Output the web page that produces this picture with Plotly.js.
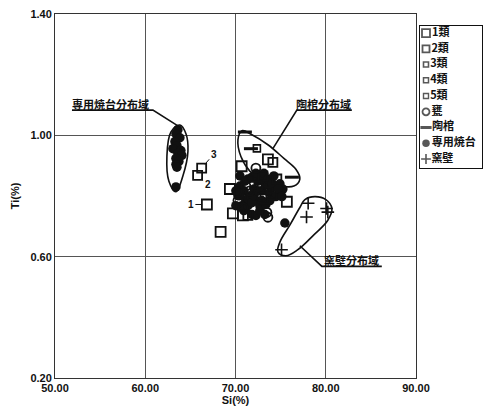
<!DOCTYPE html>
<html><head><meta charset="utf-8">
<script src="https://cdn.plot.ly/plotly-3.0.1.min.js"></script>
<style>html,body{margin:0;padding:0;background:#fff}#chart{width:484px;height:416px}</style>
</head><body><div id="chart"></div>
<script>
// ---- categories / legend labels ----
const categories = ['1類','2類','3類','4類','5類','甕','陶棺','専用焼台','窯壁'];

// ---- series values (Si %, Ti %) ----
const cls1X = [66.83, 68.35, 69.38, 69.71, 70.68, 75.69, 73.59, 70.82];
const cls1Y = [0.772, 0.682, 0.823, 0.743, 0.898, 0.781, 0.921, 0.736];
const cls2X = [65.80, 66.25, 74.14, 73.03, 74.58, 73.25, 71.37];
const cls2Y = [0.868, 0.892, 0.911, 0.866, 0.856, 0.791, 0.736];
const cls3X = [72.37, 72.48, 74.00];
const cls3Y = [0.957, 0.836, 0.801];
const cls4X = [71.59, 73.59];
const cls4Y = [0.856, 0.817];
const cls5X = [72.70, 71.04];
const cls5Y = [0.830, 0.798];
const kameX = [72.26, 70.82, 73.48, 73.59, 71.59, 72.92, 70.27, 71.15];
const kameY = [0.892, 0.762, 0.746, 0.730, 0.817, 0.798, 0.785, 0.833];
const tokanX = [71.04, 71.71, 76.25];
const tokanY = [1.011, 0.956, 0.862];
const yakidaiX = [63.62,63.40,63.84,63.29,63.51,63.07,63.95,63.62,64.06,63.40,63.73,63.40,63.51,63.40,
  70.49,70.93,70.27,71.15,70.71,71.59,72.04,72.48,72.92,73.37,73.81,72.26,71.82,72.26,75.25,74.47,71.37,72.92,74.92,70.93,73.25,75.47,70.04,72.70,71.37,74.03,
  70.49,71.04,71.82,72.26,73.14,73.59,74.03,74.70,75.14,72.70,71.37,71.82,73.37,73.81,70.49,70.04,72.92,72.04,74.25,72.48];
const yakidaiY = [1.018,1.005,0.992,0.979,0.966,0.956,0.950,0.940,0.934,0.924,0.914,0.904,0.895,0.830,
  0.833,0.817,0.801,0.785,0.768,0.801,0.823,0.849,0.817,0.836,0.811,0.785,0.739,0.736,0.823,0.798,0.856,0.856,0.840,0.752,0.739,0.711,0.768,0.768,0.768,0.830,
  0.866,0.849,0.862,0.875,0.875,0.856,0.843,0.823,0.798,0.752,0.791,0.778,0.772,0.785,0.801,0.817,0.785,0.801,0.866,0.817];
const kamaX = [78.05, 77.87, 80.09, 80.23, 75.10];
const kamaY = [0.776, 0.731, 0.759, 0.747, 0.623];

// ---- distribution region outlines ----
const regYakidaiX = [63.84,64.51,64.73,64.17,63.40,62.62,62.40,62.85,63.84];
const regYakidaiY = [1.034,1.005,0.947,0.866,0.814,0.849,0.930,1.011,1.034];
const regTokanX = [70.71,71.82,73.59,75.36,76.69,77.13,76.47,74.92,73.14,71.59,70.60,70.27,70.71];
const regTokanY = [1.015,1.002,0.969,0.924,0.888,0.856,0.833,0.833,0.849,0.882,0.930,0.985,1.015];
const regKamaX = [77.69,78.79,80.01,80.68,80.23,78.68,76.91,75.58,74.70,74.92,76.02,77.13,77.69];
const regKamaY = [0.788,0.798,0.788,0.759,0.720,0.672,0.623,0.603,0.616,0.648,0.704,0.762,0.788];

// ---- region labels and leader lines ----
const regionLabels = ['専用焼台分布域','陶棺分布域','窯壁分布域'];
const regionLabelX = [56.2, 79.8, 82.9];
const regionLabelY = [1.103, 1.103, 0.590];
const leadYakidaiX = [51.88, 60.85, 63.62];
const leadYakidaiY = [1.083, 1.083, 1.031];
const leadTokanX = [82.89, 76.80, 74.14];
const leadTokanY = [1.083, 1.083, 0.956];
const leadKamaX = [77.13, 79.57, 86.21];
const leadKamaY = [0.636, 0.568, 0.568];

// ---- sample number labels ----
const sampleLabels = ['1','2','3'];
const sampleX = [66.83, 65.80, 66.25];
const sampleY = [0.772, 0.868, 0.892];

const xTicks = [50, 60, 70, 80, 90];
const yTicks = [0.2, 0.6, 1.0, 1.4];

// ---- styles ----
const K = '#111';
const styles = [
  {symbol:'square-open', size:10, line:1.8},
  {symbol:'square-open', size:9, line:1.8},
  {symbol:'square-open', size:7, line:1.6},
  {symbol:'square-open', size:6, line:1.5},
  {symbol:'square-open', size:5, line:1.4},
  {symbol:'circle-open', size:9, line:1.8},
  {symbol:'line-ew', size:10, line:3},
  {symbol:'circle', size:9.5, line:0},
  {symbol:'cross-thin', size:9, line:1.6}
];
const seriesX = [cls1X, cls2X, cls3X, cls4X, cls5X, kameX, tokanX, yakidaiX, kamaX];
const seriesY = [cls1Y, cls2Y, cls3Y, cls4Y, cls5Y, kameY, tokanY, yakidaiY, kamaY];

const traces = [];
const outline = (x, y, spline) => ({x, y, type:'scatter', mode:'lines', hoverinfo:'skip',
  line:{color:K, width:1.6, shape: spline ? 'spline' : 'linear', smoothing:1.1}, showlegend:false});
traces.push(outline(regYakidaiX, regYakidaiY, true));
traces.push(outline(regTokanX, regTokanY, true));
traces.push(outline(regKamaX, regKamaY, true));
traces.push(outline(leadYakidaiX, leadYakidaiY, false));
traces.push(outline(leadTokanX, leadTokanY, false));
traces.push(outline(leadKamaX, leadKamaY, false));

const order = [7, 0, 1, 2, 3, 4, 5, 6, 8];
order.forEach(i => {
  const s = styles[i];
  traces.push({x: seriesX[i], y: seriesY[i], type:'scatter', mode:'markers', name: categories[i], showlegend:false,
    marker:{symbol:s.symbol, size:s.size, color:K, line:{color:K, width:s.line}}});
});

// manual legend on its own small axes
const legY = categories.map((c, i) => i);
const legX = categories.map(() => 6);
traces.push({x: legX, y: legY, xaxis:'x2', yaxis:'y2', type:'scatter', mode:'markers+text', showlegend:false,
  text: categories, textposition:'middle right', hoverinfo:'skip',
  textfont:{family:'Noto Sans CJK JP', size:11, color:K, weight:'bold'},
  marker:{symbol: styles.map(s => s.symbol), size: styles.map(s => Math.max(s.size - 2, 5)), color:K,
          line:{color:K, width: styles.map(s => s.line)}}});

const annotations = regionLabels.map((t, i) => ({x: regionLabelX[i], y: regionLabelY[i], xref:'x', yref:'y',
  text:'<b>' + t + '</b>', showarrow:false, font:{family:'Noto Sans CJK JP', size:11, color:K}}));
const offs = [[-16, 0], [10, 9], [12, -14]];
sampleLabels.forEach((t, i) => annotations.push({x: sampleX[i], y: sampleY[i], xref:'x', yref:'y',
  text:'<b>' + t + '</b>', showarrow:true, arrowhead:0, arrowwidth:1, arrowcolor:K, standoff:5,
  ax: offs[i][0], ay: offs[i][1], font:{family:'Liberation Sans', size:10, color:K}}));

const plotW = 484 - 55 - 2;
const layout = {
  width:484, height:416, paper_bgcolor:'#fff', plot_bgcolor:'#fff',
  margin:{l:55, r:2, t:14, b:38},
  showlegend:false,
  font:{family:'Liberation Sans', color:K},
  xaxis:{domain:[0, 361/plotW], range:[50, 90], tickvals:xTicks, tickformat:'.2f', ticks:'',
    showgrid:true, gridcolor:'#555', gridwidth:1, zeroline:false,
    showline:true, mirror:true, linecolor:'#333', linewidth:1,
    tickfont:{family:'Liberation Sans', size:11, weight:'bold', color:K},
    title:{text:'<b>Si(%)</b>', font:{family:'Liberation Sans', size:11, color:K}, standoff:2}},
  yaxis:{range:[0.2, 1.4], tickvals:yTicks, tickformat:'.2f', ticks:'',
    showgrid:true, gridcolor:'#555', gridwidth:1, zeroline:false,
    showline:true, mirror:true, linecolor:'#333', linewidth:1,
    tickfont:{family:'Liberation Sans', size:11, weight:'bold', color:K},
    title:{text:'<b>Ti(%)</b>', font:{family:'Liberation Sans', size:11, color:K}, standoff:8}},
  xaxis2:{domain:[365/plotW, 1], range:[0, 62], anchor:'y2', showgrid:false, zeroline:false,
    showticklabels:false, ticks:'', showline:true, mirror:true, linecolor:K, linewidth:1, fixedrange:true},
  yaxis2:{domain:[0.577, 0.967], range:[8.57, -0.45], anchor:'x2', showgrid:false, zeroline:false,
    showticklabels:false, ticks:'', showline:true, mirror:true, linecolor:K, linewidth:1, fixedrange:true},
  annotations
};
Plotly.newPlot('chart', traces, layout, {staticPlot:true, displayModeBar:false});
</script>
</body></html>
